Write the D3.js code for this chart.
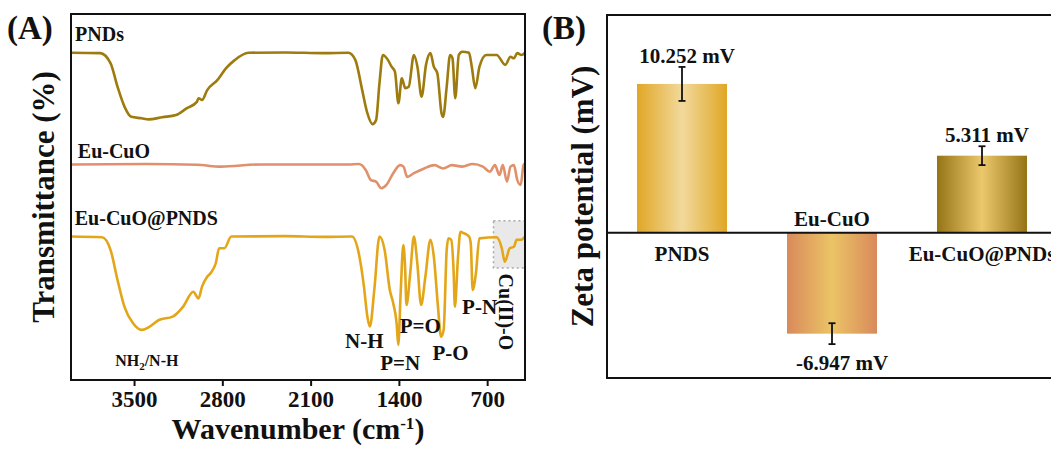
<!DOCTYPE html>
<html>
<head>
<meta charset="utf-8">
<script src="https://cdn.jsdelivr.net/npm/d3@7/dist/d3.min.js"></script>
<style>
  body { margin: 0; background: #fff; }
  svg { display: block; font-family: "Liberation Serif", "Times New Roman", serif; font-weight: bold; }
</style>
</head>
<body>
<svg id="chart" width="1051" height="453"></svg>
<script>
// ---- Panel A: FTIR spectra, [wavenumber, transmittance (offset, a.u.)] ----
const pndsSpectrum = [
  [4000, 89.4], [3768, 89.3], [3686, 86.5], [3631, 80.1], [3576, 74.7], [3522, 71.9],
  [3440, 71.5], [3385, 71.2], [3276, 71.8], [3166, 72.4], [3084, 74.2], [3002, 76.0],
  [2989, 77.0], [2961, 76.5], [2920, 79.2], [2838, 82.0], [2770, 85.2], [2702, 87.4],
  [2593, 89.4], [2300, 89.5], [2000, 89.3], [1800, 89.4], [1745, 87.4], [1691, 79.2],
  [1650, 72.9], [1609, 69.9], [1581, 71.0], [1554, 81.1], [1527, 88.8], [1486, 87.4],
  [1458, 85.6], [1431, 84.2], [1404, 75.6], [1377, 82.4], [1349, 79.7], [1322, 80.1],
  [1281, 88.8], [1253, 85.6], [1220, 77.4], [1185, 86.1], [1150, 89.3], [1123, 85.6],
  [1095, 83.8], [1062, 72.9], [1049, 71.9], [1021, 80.1], [994, 88.8], [975, 87.9],
  [953, 77.0], [925, 88.8], [898, 89.7], [844, 89.4], [822, 85.6], [794, 79.7],
  [761, 85.6], [707, 88.8], [625, 88.8], [556, 86.1], [515, 88.3], [488, 87.9],
  [461, 89.3], [428, 88.8], [400, 89.4]
];
const euCuoSpectrum = [
  [4000, 58.9], [3400, 59.0], [3000, 58.8], [2811, 58.3], [2500, 58.9], [1800, 58.9],
  [1718, 59.0], [1663, 57.4], [1622, 54.6], [1581, 54.2], [1540, 52.4], [1499, 53.3],
  [1445, 56.5], [1390, 58.7], [1363, 58.3], [1335, 55.5], [1281, 56.5], [1199, 57.8],
  [1117, 58.7], [1049, 57.8], [980, 58.7], [898, 58.3], [816, 59.0], [734, 58.3],
  [679, 56.9], [638, 58.7], [603, 56.0], [576, 58.7], [543, 54.2], [515, 58.3],
  [488, 58.7], [461, 54.6], [434, 53.3], [412, 58.7], [400, 59.2]
];
const euCuoPndsSpectrum = [
  [4000, 39.2], [3754, 39.0], [3686, 35.5], [3631, 27.3], [3576, 20.0], [3508, 15.5],
  [3440, 13.7], [3385, 14.4], [3303, 16.4], [3194, 17.3], [3112, 20.0], [3030, 24.1],
  [2989, 22.3], [2961, 25.5], [2920, 28.2], [2893, 29.2], [2852, 31.9], [2825, 36.0],
  [2784, 36.0], [2729, 39.2], [2300, 39.3], [2000, 39.1], [1772, 39.2], [1718, 34.6],
  [1677, 25.5], [1650, 17.3], [1630, 14.6], [1595, 24.6], [1554, 39.2], [1513, 35.5],
  [1472, 24.6], [1445, 21.0], [1418, 15.5], [1405, 9.6], [1385, 24.6], [1365, 36.9],
  [1350, 30.1], [1340, 20.5], [1310, 29.2], [1281, 39.2], [1254, 31.9], [1224, 20.5],
  [1190, 28.2], [1150, 38.3], [1123, 33.7], [1090, 20.0], [1066, 11.8], [1045, 13.7],
  [1021, 35.5], [1007, 38.7], [985, 38.3], [966, 29.6], [956, 20.0], [931, 33.7],
  [912, 40.5], [885, 40.1], [844, 39.2], [830, 37.3], [815, 24.6], [789, 29.2],
  [762, 38.7], [625, 39.0], [584, 36.0], [560, 32.3], [521, 36.0], [488, 36.4],
  [466, 38.3], [434, 38.3], [400, 39.2]
];
const spectraNames = ["PNDs", "Eu-CuO", "Eu-CuO@PNDS"];
const spectraColors = ["#9e7b0e", "#e0916b", "#e4a619"];
const spectraNamePos = [[3968, 92.6], [3946, 60.7], [3970, 42.3]];
const wavenumberTicks = [3500, 2800, 2100, 1400, 700];
const bandLabels = [
  { text: "N-H", wn: 1674, t: 8.7 },
  { text: "P=N", wn: 1389, t: 2.7 },
  { text: "P=O", wn: 1231, t: 12.8 },
  { text: "P-O", wn: 990, t: 5.5 },
  { text: "P-N", wn: 760, t: 18.0 }
];
const cuoBox = { wn: [650, 400], t: [30.6, 43.5] };

// ---- Panel B: zeta potential ----
const zetaCategories = ["PNDS", "Eu-CuO", "Eu-CuO@PNDs"];
const zetaValues = [10.252, -6.947, 5.311];
const zetaErrors = [1.17, 0.72, 0.65];
const zetaGradients = [
  ["#e0a726", "#f2d99c"],
  ["#d98a5b", "#ebc466"],
  ["#957416", "#ebc86c"]
];

const svg = d3.select("#chart");

// ================= Panel A =================
const a = { left: 71, top: 14, width: 454, height: 366 };
const gA = svg.append("g").attr("transform", `translate(${a.left},${a.top})`);

const x = d3.scaleLinear().domain([4000, 400]).range([0, a.width]);
const y = d3.scaleLinear().domain([0, 100]).range([a.height, 0]);

// highlighted Cu-O region
gA.append("rect")
  .attr("x", x(cuoBox.wn[0]))
  .attr("y", y(cuoBox.t[1]))
  .attr("width", x(cuoBox.wn[1]) - x(cuoBox.wn[0]))
  .attr("height", y(cuoBox.t[0]) - y(cuoBox.t[1]))
  .attr("fill", "#e9e9e9")
  .attr("stroke", "#a8a8a8")
  .attr("stroke-width", 1.5)
  .attr("stroke-dasharray", "2,3");

const line = d3.line()
  .x(d => x(d[0]))
  .y(d => y(d[1]))
  .curve(d3.curveMonotoneX);

[pndsSpectrum, euCuoSpectrum, euCuoPndsSpectrum].forEach((s, i) => {
  gA.append("path")
    .datum(s)
    .attr("fill", "none")
    .attr("stroke", spectraColors[i])
    .attr("stroke-width", 2.6)
    .attr("stroke-linejoin", "round")
    .attr("d", line);
  gA.append("text")
    .attr("x", x(spectraNamePos[i][0]))
    .attr("y", y(spectraNamePos[i][1]))
    .attr("font-size", 20)
    .attr("fill", "#111")
    .text(spectraNames[i]);
});

// band assignments
gA.selectAll(".band")
  .data(bandLabels)
  .join("text")
  .attr("x", d => x(d.wn))
  .attr("y", d => y(d.t))
  .attr("text-anchor", "middle")
  .attr("font-size", 21)
  .attr("fill", "#111")
  .text(d => d.text);

const nh = gA.append("text")
  .attr("x", x(3399))
  .attr("y", y(3.8))
  .attr("text-anchor", "middle")
  .attr("font-size", 16)
  .attr("fill", "#111");
nh.append("tspan").text("NH");
nh.append("tspan").attr("font-size", 11).attr("dy", 4).text("2");
nh.append("tspan").attr("dy", -4).text("/N-H");

gA.append("text")
  .attr("transform", `translate(${x(548)},${y(18.6)}) rotate(90)`)
  .attr("text-anchor", "middle")
  .attr("dy", "0.35em")
  .attr("font-size", 20)
  .attr("fill", "#111")
  .text("Cu(II)-O");

// frame and axis
gA.append("rect")
  .attr("width", a.width).attr("height", a.height)
  .attr("fill", "none").attr("stroke", "#111").attr("stroke-width", 2);

const xAxis = gA.append("g")
  .attr("transform", `translate(0,${a.height})`)
  .call(d3.axisBottom(x).tickValues(wavenumberTicks).tickSize(6).tickPadding(5).tickFormat(d3.format("d")));
xAxis.select(".domain").remove();
xAxis.selectAll("line").attr("stroke", "#111").attr("stroke-width", 2);
xAxis.selectAll("text")
  .attr("font-size", 23)
  .attr("font-family", "Liberation Serif, serif")
  .attr("font-weight", "bold")
  .attr("fill", "#111");

const xt = svg.append("text")
  .attr("x", a.left + a.width / 2)
  .attr("y", 439)
  .attr("text-anchor", "middle")
  .attr("font-size", 30)
  .attr("fill", "#111");
xt.append("tspan").text("Wavenumber (cm");
xt.append("tspan").attr("font-size", 17).attr("dy", -10).text("-1");
xt.append("tspan").attr("dy", 10).text(")");

svg.append("text")
  .attr("transform", `translate(54,${a.top + a.height / 2}) rotate(-90)`)
  .attr("text-anchor", "middle")
  .attr("font-size", 31)
  .attr("fill", "#111")
  .text("Transmittance (%)");

svg.append("text")
  .attr("x", 7).attr("y", 39)
  .attr("font-size", 33)
  .attr("fill", "#111")
  .text("(A)");

// ================= Panel B =================
const b = { left: 607, top: 15, width: 450, height: 363 };
const gB = svg.append("g").attr("transform", `translate(${b.left},${b.top})`);

const xb = d3.scaleBand()
  .domain(zetaCategories)
  .range([0, b.width])
  .paddingInner(0.4)
  .paddingOuter(0.2);
const yb = d3.scaleLinear().domain([-10, 15]).range([b.height, 0]);

const defs = svg.append("defs");
zetaGradients.forEach((g, i) => {
  const lg = defs.append("linearGradient")
    .attr("id", "grad" + i)
    .attr("x1", "0%").attr("x2", "100%").attr("y1", "0%").attr("y2", "0%");
  lg.append("stop").attr("offset", "0%").attr("stop-color", g[0]);
  lg.append("stop").attr("offset", "50%").attr("stop-color", g[1]);
  lg.append("stop").attr("offset", "100%").attr("stop-color", g[0]);
});

const bars = zetaCategories.map((c, i) => ({ c, v: zetaValues[i], e: zetaErrors[i], i }));

gB.selectAll(".bar")
  .data(bars)
  .join("rect")
  .attr("x", d => xb(d.c))
  .attr("y", d => yb(Math.max(0, d.v)))
  .attr("width", xb.bandwidth())
  .attr("height", d => Math.abs(yb(d.v) - yb(0)))
  .attr("fill", d => `url(#grad${d.i})`);

// error bars
const eb = gB.selectAll(".err").data(bars).join("g")
  .attr("transform", d => `translate(${xb(d.c) + xb.bandwidth() / 2},0)`);
eb.append("line")
  .attr("y1", d => yb(d.v - d.e)).attr("y2", d => yb(d.v + d.e))
  .attr("stroke", "#111").attr("stroke-width", 1.8);
eb.append("line")
  .attr("x1", -3.5).attr("x2", 3.5)
  .attr("y1", d => yb(d.v + d.e)).attr("y2", d => yb(d.v + d.e))
  .attr("stroke", "#111").attr("stroke-width", 1.8);
eb.append("line")
  .attr("x1", -3.5).attr("x2", 3.5)
  .attr("y1", d => yb(d.v - d.e)).attr("y2", d => yb(d.v - d.e))
  .attr("stroke", "#111").attr("stroke-width", 1.8);

// value labels
gB.selectAll(".val")
  .data(bars)
  .join("text")
  .attr("x", d => xb(d.c) + xb.bandwidth() / 2 + (d.v < 0 ? 10 : 5))
  .attr("y", d => d.v >= 0 ? yb(d.v + d.e) - 4 : yb(d.v - d.e) + 26)
  .attr("text-anchor", "middle")
  .attr("font-size", 21)
  .attr("fill", "#111")
  .text(d => d.v.toFixed(3) + " mV");

// category labels on the other side of zero
gB.selectAll(".cat")
  .data(bars)
  .join("text")
  .attr("x", d => xb(d.c) + xb.bandwidth() / 2)
  .attr("y", d => d.v >= 0 ? yb(0) + 28 : yb(0) - 7)
  .attr("text-anchor", "middle")
  .attr("font-size", 21)
  .attr("fill", "#111")
  .text(d => d.c);

// zero line and frame
gB.append("line")
  .attr("x1", 0).attr("x2", b.width)
  .attr("y1", yb(0)).attr("y2", yb(0))
  .attr("stroke", "#111").attr("stroke-width", 2);
gB.append("rect")
  .attr("width", b.width).attr("height", b.height)
  .attr("fill", "none").attr("stroke", "#111").attr("stroke-width", 2);

svg.append("text")
  .attr("transform", `translate(593,${b.top + b.height / 2}) rotate(-90)`)
  .attr("text-anchor", "middle")
  .attr("font-size", 31)
  .attr("fill", "#111")
  .text("Zeta potential (mV)");

svg.append("text")
  .attr("x", 542).attr("y", 39)
  .attr("font-size", 33)
  .attr("fill", "#111")
  .text("(B)");
</script>
</body>
</html>
